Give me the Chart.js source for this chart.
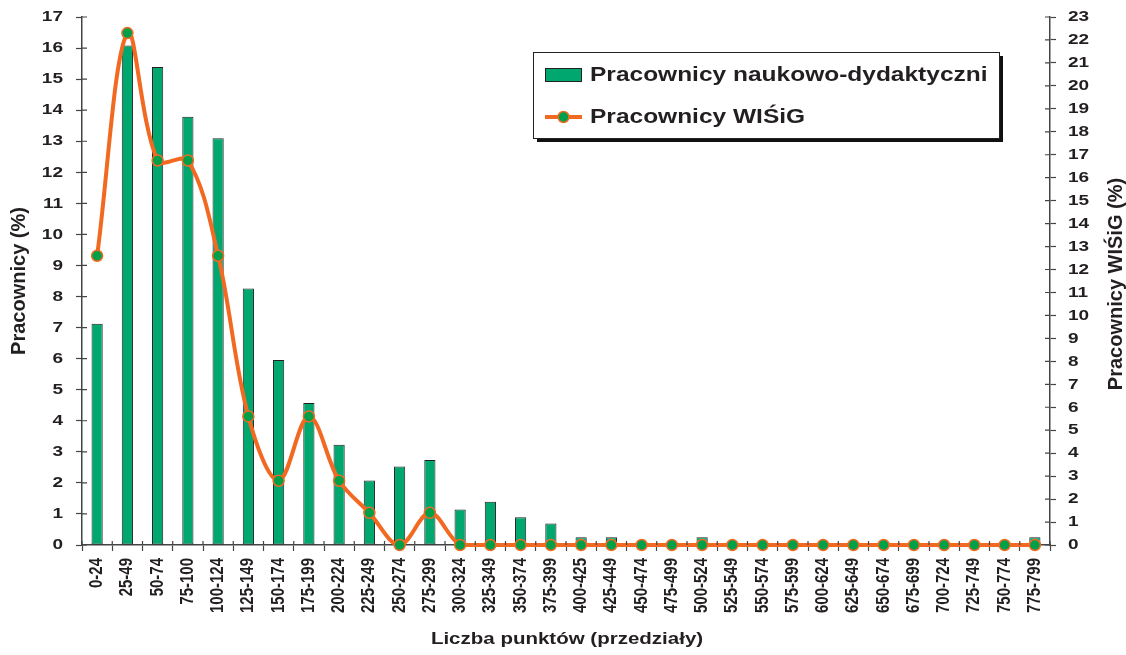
<!DOCTYPE html>
<html><head><meta charset="utf-8">
<script src="https://cdn.jsdelivr.net/npm/chart.js@4"></script>
<style>html,body{margin:0;padding:0;background:#fff;overflow:hidden}</style>
</head><body>
<canvas id="c" width="1126" height="655"></canvas>
<script>
const categories = ["0-24","25-49","50-74","75-100","100-124","125-149","150-174","175-199","200-224","225-249","250-274","275-299","300-324","325-349","350-374","375-399","400-425","425-449","450-474","475-499","500-524","525-549","550-574","575-599","600-624","625-649","650-674","675-699","700-724","725-749","750-774","775-799"];
const staffPct = [7.12,16.08,15.39,13.79,13.10,8.26,5.96,4.57,3.23,2.08,2.53,2.74,1.14,1.39,0.89,0.69,0.25,0.25,0,0,0.25,0,0,0,0,0,0,0,0,0,0,0.25];
const wisigPct = [12.6,22.3,16.75,16.75,12.6,5.6,2.8,5.6,2.8,1.4,0,1.4,0,0,0,0,0,0,0,0,0,0,0,0,0,0,0,0,0,0,0,0];
const leftAxisMax = 17;
const rightAxisMax = 23;
const seriesNames = ["Pracownicy naukowo-dydaktyczni","Pracownicy WIŚiG"];
const axisTitles = {left:"Pracownicy (%)", right:"Pracownicy WIŚiG (%)", bottom:"Liczba punktów (przedziały)"};

const FONT = "'Liberation Sans', Arial, Helvetica, sans-serif";
const TXT = '#231f20';
const AX = '#444';
const BAR = '#00a870';
const LINE = '#f26a22';
const DOT = '#00a04a';

// Text in the reference is vertically compressed (screen space); emulate it.
let textSquash = 0.81;
const origFill = CanvasRenderingContext2D.prototype.fillText;
CanvasRenderingContext2D.prototype.fillText = function(t,x,y,mw){
  if (textSquash === 1) return mw===undefined ? origFill.call(this,t,x,y) : origFill.call(this,t,x,y,mw);
  const m = this.getTransform();
  const p = m.transformPoint(new DOMPoint(x,y));
  this.setTransform(new DOMMatrix().translate(p.x,p.y).scale(1,textSquash).translate(-p.x,-p.y).multiply(m));
  if (mw===undefined) origFill.call(this,t,x,y); else origFill.call(this,t,x,y,mw);
  this.setTransform(m);
};

const decor = {
  id:'decor',
  afterDraw(chart){
    const ctx = chart.ctx, a = chart.chartArea;
    const yl = chart.scales.y, yr = chart.scales.y1;
    ctx.save();
    ctx.strokeStyle = AX; ctx.lineWidth = 1.2;
    ctx.beginPath();
    yl.ticks.forEach((t,i)=>{const p=yl.getPixelForTick(i); ctx.moveTo(a.left,p); ctx.lineTo(a.left+5,p);});
    yr.ticks.forEach((t,i)=>{const p=yr.getPixelForTick(i); ctx.moveTo(a.right,p); ctx.lineTo(a.right-5,p);});
    const n = categories.length, w = (a.right-a.left)/n;
    for(let i=0;i<=n;i++){const p=a.left+i*w; ctx.moveTo(p,a.bottom); ctx.lineTo(p,a.bottom-4);}
    ctx.stroke();
    // axis titles
    ctx.fillStyle = TXT;
    ctx.textAlign='center'; ctx.textBaseline='middle';
    textSquash = 1;
    ctx.font = "bold 20px "+FONT;
    ctx.save(); ctx.translate(19,281); ctx.rotate(-Math.PI/2); ctx.fillText(axisTitles.left,0,0); ctx.restore();
    ctx.save(); ctx.translate(1116,284); ctx.rotate(-Math.PI/2); ctx.fillText(axisTitles.right,0,0); ctx.restore();
    textSquash = 0.81;
    ctx.font = "bold 20.5px "+FONT;
    ctx.fillText(axisTitles.bottom,567,639);
    // legend
    const lx=533, ly=52, lw=466, lh=86;
    ctx.fillStyle='#111'; ctx.fillRect(lx+4,ly+4,lw,lh);
    ctx.fillStyle='#fff'; ctx.fillRect(lx,ly,lw,lh);
    ctx.strokeStyle='#222'; ctx.lineWidth=1; ctx.strokeRect(lx+0.5,ly+0.5,lw,lh);
    ctx.fillStyle=BAR; ctx.fillRect(545,68,37,14);
    ctx.strokeStyle='#222'; ctx.strokeRect(545.5,68.5,36,13);
    ctx.strokeStyle=LINE; ctx.lineWidth=4; ctx.beginPath(); ctx.moveTo(545,117); ctx.lineTo(582,117); ctx.stroke();
    ctx.beginPath(); ctx.arc(563.5,117,5.5,0,Math.PI*2); ctx.fillStyle=DOT; ctx.fill(); ctx.lineWidth=1.5; ctx.stroke();
    ctx.fillStyle=TXT; ctx.font="bold 24.5px "+FONT; ctx.textAlign='left'; ctx.textBaseline='middle';
    ctx.fillText(seriesNames[0],590,76);
    ctx.fillText(seriesNames[1],590,118);
    ctx.restore();
  }
};

function noPad(s){s.paddingTop=0; s.paddingBottom=0; s.paddingLeft=0; s.paddingRight=0;}

new Chart(document.getElementById('c'),{
  data:{
    labels:categories,
    datasets:[
      {type:'line', label:seriesNames[1], data:wisigPct, yAxisID:'y1', order:0,
       borderColor:LINE, borderWidth:4, tension:0.35, clip:false,
       pointRadius:5.5, pointBackgroundColor:DOT, pointBorderColor:LINE, pointBorderWidth:1.5},
      {type:'bar', label:seriesNames[0], data:staffPct, yAxisID:'y', order:1,
       backgroundColor:BAR, borderColor:'#222', borderWidth:1, borderSkipped:false,
       barPercentage:0.37, categoryPercentage:1}
    ]
  },
  options:{
    responsive:false, animation:false, devicePixelRatio:1,
    layout:{padding:{top:17,left:0,right:0,bottom:0}},
    plugins:{legend:{display:false}, tooltip:{enabled:false}},
    scales:{
      x:{
        offset:true,
        grid:{display:true, drawOnChartArea:false, offset:true, tickLength:6, tickColor:AX, tickWidth:1.2},
        border:{display:true,color:AX,width:1.5},
        ticks:{minRotation:90,maxRotation:90,autoSkip:false,padding:7,color:TXT,font:{family:FONT,size:18.5,weight:'bold'}},
        afterFit(s){s.height=110; noPad(s);}
      },
      y:{
        position:'left', min:0, max:leftAxisMax,
        grid:{display:true, drawOnChartArea:false, tickLength:6, tickColor:AX, tickWidth:1.2},
        border:{display:true,color:AX,width:1.5},
        ticks:{stepSize:1,autoSkip:false,padding:13,color:TXT,font:{family:FONT,size:19,weight:'bold'}},
        afterFit(s){s.width=82; noPad(s);}
      },
      y1:{
        position:'right', min:0, max:rightAxisMax,
        grid:{display:true, drawOnChartArea:false, tickLength:6, tickColor:AX, tickWidth:1.2},
        border:{display:true,color:AX,width:1.5},
        ticks:{stepSize:1,autoSkip:false,padding:12,color:TXT,font:{family:FONT,size:19,weight:'bold'}},
        afterFit(s){s.width=76; noPad(s);}
      }
    }
  },
  plugins:[decor]
});
</script>
</body></html>
